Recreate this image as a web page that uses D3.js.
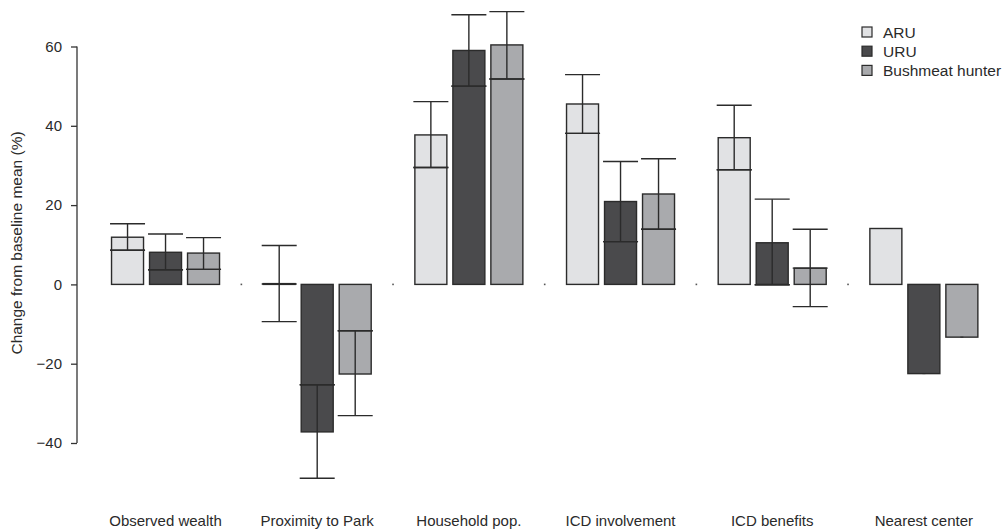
<!DOCTYPE html>
<html>
<head>
<meta charset="utf-8">
<script src="https://cdn.jsdelivr.net/npm/d3@7"></script>
<style>
  body { margin: 0; background: #fff; }
  svg { display: block; font-family: "Liberation Sans", Arial, sans-serif; }
</style>
</head>
<body>
<svg width="1004" height="529"></svg>
<script>
// categories and series
const groups = ["Observed wealth", "Proximity to Park", "Household pop.", "ICD involvement", "ICD benefits", "Nearest center"];
const series = ["ARU", "URU", "Bushmeat hunter"];
const yTicks = [-40, -20, 0, 20, 40, 60];

// bar heights (change from baseline mean, %)
const aruMean  = [11.9, 0.2, 37.7, 45.5, 37.0, 14.1];
const uruMean  = [8.1, -37.2, 59.0, 20.9, 10.5, -22.5];
const bushMean = [7.9, -22.6, 60.4, 22.8, 4.1, -13.3];

// centre line of each error bar
const aruMid  = [8.6, 0.1, 29.5, 38.1, 28.9, null];
const uruMid  = [3.7, -25.3, 50.0, 10.8, -0.1, null];
const bushMid = [3.8, -11.7, 51.8, 13.9, 4.1, null];

// drawn whisker ends
const aruLo  = [8.6, -9.4, 29.5, 38.1, 28.9, null];
const aruHi  = [15.3, 9.8, 46.1, 52.9, 45.2, null];
const uruLo  = [3.7, -48.9, 50.0, 10.8, -0.1, null];
const uruHi  = [12.7, -25.3, 68.0, 31.0, 21.5, null];
const bushLo = [3.8, -33.1, 51.8, 13.9, -5.6, null];
const bushHi = [11.8, -11.7, 68.8, 31.7, 13.9, null];

const colors = ["#e1e2e4", "#4a4a4c", "#a9aaad"];

const means = [aruMean, uruMean, bushMean];
const mids = [aruMid, uruMid, bushMid];
const los = [aruLo, uruLo, bushLo];
const his = [aruHi, uruHi, bushHi];

const rows = [];
groups.forEach((g, i) => {
  series.forEach((s, j) => {
    rows.push({ group: g, series: s, mean: means[j][i], mid: mids[j][i], lo: los[j][i], hi: his[j][i] });
  });
});

const svg = d3.select("svg");

const x0 = d3.scaleBand()
  .domain(groups)
  .range([89.7, 999.7]);

const x1 = d3.scaleBand()
  .domain(series)
  .range([-57, 57])
  .paddingInner(0.158)
  .paddingOuter(0.079);

const y = d3.scaleLinear()
  .domain([-40, 60])
  .range([443, 46.5]);

const gx = d => x0(d.group) + x0.bandwidth() / 2;

// y axis
const yAxis = svg.append("g")
  .attr("transform", "translate(77,0)")
  .call(d3.axisLeft(y).tickValues(yTicks).tickSize(6).tickPadding(9).tickFormat(d => d < 0 ? "\u2212" + Math.abs(d) : d));
yAxis.select(".domain").attr("d", "M0," + y(60) + "V" + y(-40)).attr("stroke", "#333").attr("stroke-width", 1.3);
yAxis.selectAll(".tick line").attr("stroke", "#333").attr("stroke-width", 1.3);
yAxis.selectAll(".tick text").attr("font-size", 15).attr("fill", "#2a2a2a");

svg.append("text")
  .attr("transform", "translate(22," + 243 + ") rotate(-90)")
  .attr("text-anchor", "middle")
  .attr("font-size", 15.5)
  .attr("fill", "#2a2a2a")
  .text("Change from baseline mean (%)");

// small dots on the zero line between groups
svg.selectAll(".sep")
  .data(groups.slice(1))
  .enter().append("rect")
    .attr("class", "sep")
    .attr("x", d => x0(d) - 0.8)
    .attr("y", y(0) - 0.8)
    .attr("width", 1.6)
    .attr("height", 1.6)
    .attr("fill", "#555");

// bars
svg.selectAll(".bar")
  .data(rows)
  .enter().append("rect")
    .attr("class", "bar")
    .attr("x", d => gx(d) + x1(d.series))
    .attr("y", d => y(Math.max(0, d.mean)))
    .attr("width", x1.bandwidth())
    .attr("height", d => Math.abs(y(d.mean) - y(0)))
    .attr("fill", d => colors[series.indexOf(d.series)])
    .attr("stroke", "#2b2b2b")
    .attr("stroke-width", 1.4);

// error bars
const capW = x1.bandwidth() + 3;
const err = svg.selectAll(".err")
  .data(rows)
  .enter().append("g")
    .attr("class", "err")
    .attr("transform", d => "translate(" + (gx(d) + x1(d.series) + x1.bandwidth() / 2) + ",0)")
    .attr("stroke", "#2b2b2b")
    .attr("stroke-width", 1.4);

err.filter(d => d.lo !== null).each(function(d) {
  const e = d3.select(this);
  e.append("line").attr("x1", 0).attr("x2", 0).attr("y1", y(d.lo)).attr("y2", y(d.hi));
  [d.lo, d.mid, d.hi].forEach(v => {
    e.append("line").attr("x1", -capW / 2).attr("x2", capW / 2).attr("y1", y(v)).attr("y2", y(v));
  });
});

// tiny marks where there is no spread
err.filter(d => d.lo === null)
  .append("line")
    .attr("x1", -1.5).attr("x2", 1.5)
    .attr("y1", d => y(d.mean)).attr("y2", d => y(d.mean))
    .attr("stroke-width", 1);

// group labels
svg.selectAll(".glabel")
  .data(groups)
  .enter().append("text")
    .attr("class", "glabel")
    .attr("x", d => x0(d) + x0.bandwidth() / 2)
    .attr("y", 526)
    .attr("text-anchor", "middle")
    .attr("font-size", 15)
    .attr("fill", "#2a2a2a")
    .text(d => d);

// legend
const legend = svg.selectAll(".legend")
  .data(series)
  .enter().append("g")
    .attr("class", "legend")
    .attr("transform", (d, i) => "translate(862," + (32 + i * 19.2) + ")");

legend.append("rect")
  .attr("x", 0).attr("y", -5)
  .attr("width", 10).attr("height", 10)
  .attr("fill", (d, i) => colors[i])
  .attr("stroke", "#2b2b2b")
  .attr("stroke-width", 1.2);

legend.append("text")
  .attr("x", 21)
  .attr("y", 0)
  .attr("dy", "0.36em")
  .attr("font-size", 15.5)
  .attr("fill", "#2a2a2a")
  .text(d => d);
</script>
</body>
</html>
